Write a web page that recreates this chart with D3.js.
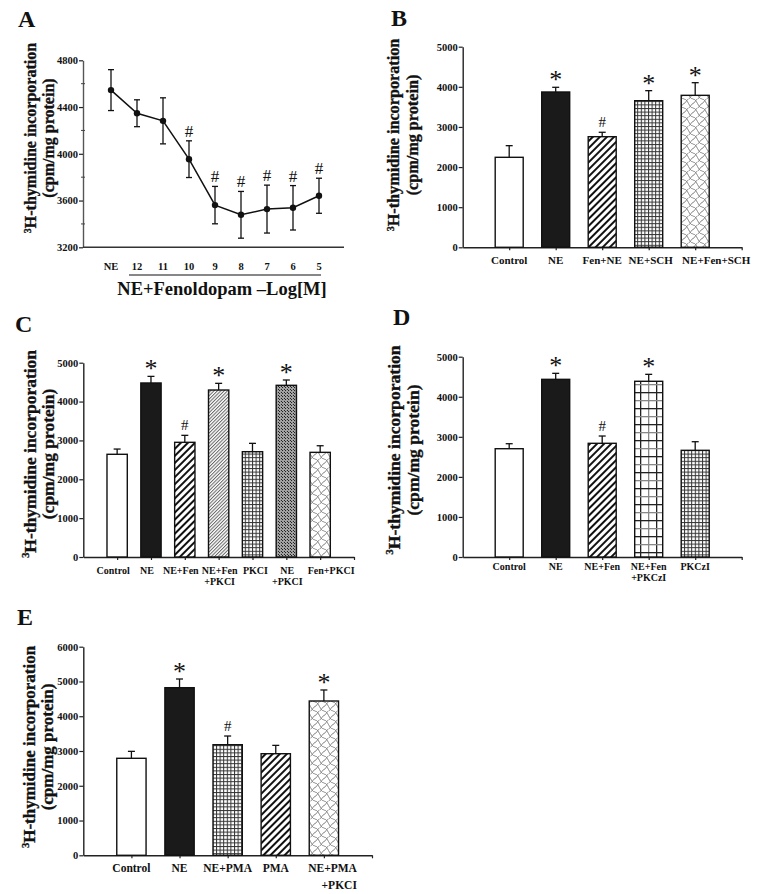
<!DOCTYPE html>
<html><head><meta charset="utf-8">
<script src="https://cdn.jsdelivr.net/npm/d3@7"></script>
<style>
body{margin:0;background:#fff}
svg{display:block}
text{font-family:"Liberation Serif","Times New Roman",serif;fill:#111}
</style>
</head><body>
<svg id="c" width="759" height="894"></svg>
<script>
// ---------------- DATA ----------------
// Panel A
const aCategories = ["NE","12","11","10","9","8","7","6","5"];
const aValues = [4545,4347,4282,3954,3561,3478,3527,3538,3641];
const aErrors = [175,115,197,157,160,200,205,190,150];
const aMarks = ["","","","#","#","#","#","#","#"];
const aTicks = [3200,3600,4000,4400,4800];
const aMinorTicks = [3400,3800,4200,4600];
const aTitle = "NE+Fenoldopam \u2013Log[M]";
// Panel B
const bCategories = ["Control","NE","Fen+NE","NE+SCH","NE+Fen+SCH"];
const bValues = [2243,3871,2757,3654,3788];
const bErrors = [290,117,110,250,315];
const bMarks = ["","*","#","*","*"];
const bTicks = [0,1000,2000,3000,4000,5000];
// Panel C
const cCategories = ["Control","NE","NE+Fen","NE+Fen\n+PKCI","PKCI","NE\n+PKCI","Fen+PKCI"];
const cValues = [2643,4478,2951,4297,2710,4418,2693];
const cErrors = [135,170,180,172,215,137,170];
const cMarks = ["","*","#","*","","*",""];
const cTicks = [0,1000,2000,3000,4000,5000];
// Panel D
const dCategories = ["Control","NE","NE+Fen","NE+Fen\n+PKCzI","PKCzI"];
const dValues = [2703,4435,2838,4386,2663];
const dErrors = [125,150,182,174,215];
const dMarks = ["","*","#","*",""];
const dTicks = [0,1000,2000,3000,4000,5000];
// Panel E
const eCategories = ["Control","NE","NE+PMA","PMA","NE+PMA\n+PKCI"];
const eValues = [2790,4821,3181,2922,4438];
const eErrors = [200,250,250,240,317];
const eMarks = ["","*","#","","*"];
const eTicks = [0,1000,2000,3000,4000,5000,6000];

const yLabel1 = "H-thymidine incorporation";
const yLabel2 = "(cpm/mg protein)";

// ---------------- SETUP ----------------
const svg = d3.select("#c");
const defs = svg.append("defs");
function pat(id, w, h, rot){
  const p = defs.append("pattern").attr("id",id).attr("patternUnits","userSpaceOnUse")
    .attr("width",w).attr("height",h);
  if(rot) p.attr("patternTransform",`rotate(${rot})`);
  p.append("rect").attr("width",w).attr("height",h).attr("fill","#fff");
  return p;
}
pat("hatch",5,5,45).append("rect").attr("width",2).attr("height",5).attr("fill","#111");
pat("fineDiag",2.4,2.4,45).append("rect").attr("width",1).attr("height",2.4).attr("fill","#666");
{ const p = pat("fineGrid",3.6,3.6);
  p.append("rect").attr("width",3.6).attr("height",1).attr("fill","#333");
  p.append("rect").attr("width",1).attr("height",3.6).attr("fill","#333"); }
{ const p = pat("bigGrid",16,16);
  p.append("rect").attr("x",0).attr("width",1.3).attr("height",16).attr("fill","#222");
  p.append("rect").attr("x",8).attr("width",1.3).attr("height",16).attr("fill","#888");
  p.append("rect").attr("y",0).attr("width",16).attr("height",1.3).attr("fill","#888");
  p.append("rect").attr("y",8).attr("width",16).attr("height",1.3).attr("fill","#222"); }
{ const p = pat("checker",3,3);
  p.append("rect").attr("width",1.5).attr("height",1.5).attr("fill","#222");
  p.append("rect").attr("x",1.5).attr("y",1.5).attr("width",1.5).attr("height",1.5).attr("fill","#222");
  p.append("rect").attr("x",1.5).attr("width",1.5).attr("height",1.5).attr("fill","#aaa");
  p.append("rect").attr("y",1.5).attr("width",1.5).attr("height",1.5).attr("fill","#aaa"); }
{ const p = pat("weave",9,9);
  p.append("path").attr("d","M0,0 C4,0 5,9 9,9 M-4.5,4.5 C-0.5,4.5 0.5,13.5 4.5,13.5 M4.5,-4.5 C8.5,-4.5 9.5,4.5 13.5,4.5")
    .attr("fill","none").attr("stroke","#777").attr("stroke-width",0.9);
  p.append("path").attr("d","M0,4.5 C1.5,4.5 3,0 4.5,0 M4.5,9 C6,9 7.5,4.5 9,4.5")
    .attr("fill","none").attr("stroke","#777").attr("stroke-width",0.9); }

const fillMap = {white:"#fff", black:"#1a1a1a", hatch:"url(#hatch)", fineDiag:"url(#fineDiag)",
  fineGrid:"url(#fineGrid)", bigGrid:"url(#bigGrid)", checker:"url(#checker)", weave:"url(#weave)"};

function panelLetter(t,x,y){
  svg.append("text").attr("x",x).attr("y",y).attr("font-size",24).attr("font-weight","bold").text(t);
}
function yTitle(cx1,cx2,cy,size){
  const off = size*0.33;
  const t1 = svg.append("text").attr("transform",`translate(${cx1+off},${cy}) rotate(-90)`)
    .attr("text-anchor","middle").attr("font-size",size).attr("font-weight","bold")
    .attr("stroke","#111").attr("stroke-width",0.35);
  t1.append("tspan").attr("font-size",size*0.62).attr("dy",-size*0.36).text("3");
  t1.append("tspan").attr("dy",size*0.36).text(yLabel1);
  svg.append("text").attr("transform",`translate(${cx2+off},${cy}) rotate(-90)`)
    .attr("text-anchor","middle").attr("font-size",size).attr("font-weight","bold")
    .attr("stroke","#111").attr("stroke-width",0.35).text(yLabel2);
}
function styleAxis(g){
  g.select(".domain").attr("stroke","#222").attr("stroke-width",1.4);
  g.selectAll(".tick line").attr("stroke","#222").attr("stroke-width",1.2);
  g.selectAll(".tick text").attr("font-family","Liberation Serif, serif").attr("font-weight","bold")
    .attr("font-size",10.5).attr("fill","#111");
}
const fmt = d => String(d);

// ---------------- PANEL A ----------------
(function(){
  const x0 = 83, xEnd = 344;
  const x = d3.scalePoint().domain(aCategories).range([111,319]);
  const y = d3.scaleLinear().domain([3200,4800]).range([247.3,60.3]);
  const gy = svg.append("g").attr("transform",`translate(${x0},0)`)
    .call(d3.axisLeft(y).tickValues(aTicks).tickFormat(fmt).tickSize(4).tickPadding(1).tickSizeOuter(0));
  styleAxis(gy);
  gy.select(".domain").attr("stroke","#555");
  svg.append("g").selectAll("line").data(aMinorTicks).join("line")
    .attr("x1",x0-2).attr("x2",x0+2).attr("y1",d=>y(d)).attr("y2",d=>y(d)).attr("stroke","#444");
  svg.append("line").attr("x1",x0).attr("x2",xEnd).attr("y1",y(3200)).attr("y2",y(3200))
    .attr("stroke","#333").attr("stroke-width",1.4);
  svg.append("g").selectAll("text").data(aCategories).join("text")
    .attr("x",d=>x(d)).attr("y",270).attr("text-anchor","middle")
    .attr("font-size",10.5).attr("font-weight","bold").text(d=>d);
  svg.append("line").attr("x1",x(aCategories[1])-8).attr("x2",x(aCategories[8])+2)
    .attr("y1",275).attr("y2",275).attr("stroke","#111").attr("stroke-width",1.2);
  svg.append("text").attr("x",222).attr("y",295).attr("text-anchor","middle")
    .attr("font-size",18.5).attr("font-weight","bold").text(aTitle);
  const pts = aCategories.map((c,i)=>({c,v:aValues[i],e:aErrors[i],m:aMarks[i]}));
  const eg = svg.append("g").attr("stroke","#111").attr("stroke-width",1.3);
  pts.forEach(p=>{
    eg.append("line").attr("x1",x(p.c)).attr("x2",x(p.c)).attr("y1",y(p.v-p.e)).attr("y2",y(p.v+p.e));
    eg.append("line").attr("x1",x(p.c)-3).attr("x2",x(p.c)+3).attr("y1",y(p.v-p.e)).attr("y2",y(p.v-p.e));
    eg.append("line").attr("x1",x(p.c)-3).attr("x2",x(p.c)+3).attr("y1",y(p.v+p.e)).attr("y2",y(p.v+p.e));
  });
  svg.append("path").datum(pts).attr("fill","none").attr("stroke","#111").attr("stroke-width",1.5)
    .attr("d",d3.line().x(d=>x(d.c)).y(d=>y(d.v)));
  svg.append("g").selectAll("circle").data(pts).join("circle")
    .attr("cx",d=>x(d.c)).attr("cy",d=>y(d.v)).attr("r",3.2).attr("fill","#111");
  svg.append("g").selectAll("text").data(pts.filter(d=>d.m)).join("text")
    .attr("x",d=>x(d.c)).attr("y",d=>y(d.v+d.e)-4).attr("text-anchor","middle")
    .attr("font-size",17).attr("fill","#222").text(d=>d.m);
  panelLetter("A",18,27);
  yTitle(31,49,138,16);
})();

// ---------------- BAR PANELS ----------------
function barPanel(o){
  const n = o.cats.length;
  const x = d3.scaleLinear().domain([0,n+1]).range([o.x0,o.x1]);
  const y = d3.scaleLinear().domain([0,o.yMax]).range([o.yBase,o.yTop]);
  const gy = svg.append("g").attr("transform",`translate(${o.x0},0)`)
    .call(d3.axisLeft(y).tickValues(o.ticks).tickFormat(fmt).tickSize(4).tickPadding(1).tickSizeOuter(0));
  styleAxis(gy);
  const gx = svg.append("g").attr("transform",`translate(0,${o.yBase})`)
    .call(d3.axisBottom(x).tickValues(d3.range(1,n+2)).tickSize(3).tickSizeOuter(0).tickFormat(""));
  styleAxis(gx);
  const rows = o.cats.map((c,i)=>({c,i,v:o.vals[i],e:o.errs[i],m:o.marks[i],f:o.fills[i]}));
  svg.append("g").selectAll("rect").data(rows).join("rect")
    .attr("x",d=>x(d.i+1)-o.barW/2).attr("width",o.barW)
    .attr("y",d=>y(d.v)).attr("height",d=>o.yBase-y(d.v))
    .attr("fill",d=>fillMap[d.f]).attr("stroke","#111").attr("stroke-width",1.4);
  const eg = svg.append("g").attr("stroke","#111").attr("stroke-width",1.3);
  rows.forEach(d=>{
    eg.append("line").attr("x1",x(d.i+1)).attr("x2",x(d.i+1)).attr("y1",y(d.v)).attr("y2",y(d.v+d.e));
    eg.append("line").attr("x1",x(d.i+1)-3.5).attr("x2",x(d.i+1)+3.5).attr("y1",y(d.v+d.e)).attr("y2",y(d.v+d.e));
  });
  svg.append("g").selectAll("text").data(rows.filter(d=>d.m)).join("text")
    .attr("x",d=>x(d.i+1)).attr("text-anchor","middle")
    .attr("y",d=> d.m==="*" ? y(d.v+d.e)+1 : y(d.v+d.e)-5)
    .attr("font-size",d=> d.m==="*" ? 26 : 15)
    .attr("fill",d=> d.m==="*" ? "#111" : "#333")
    .text(d=>d.m);
  const lg = svg.append("g");
  rows.forEach(d=>{
    const dx = o.labelDx ? o.labelDx[d.i] : 0;
    const anchor = o.labelAnchor ? o.labelAnchor[d.i] : "middle";
    const t = lg.append("text").attr("y",o.labelY).attr("text-anchor",anchor)
      .attr("font-size",o.labelSize).attr("font-weight","bold");
    d.c.split("\n").forEach((s,k)=>{
      t.append("tspan").attr("x",x(d.i+1)+dx).attr("dy",k? o.lineGap : 0).text(s);
    });
  });
  panelLetter(o.letter,o.lx,o.ly);
  yTitle(o.t1,o.t2,o.tc,o.ts);
}

barPanel({letter:"B",lx:391,ly:26,cats:bCategories,vals:bValues,errs:bErrors,marks:bMarks,ticks:bTicks,
  fills:["white","black","hatch","fineGrid","weave"],
  labelDx:[0,0,0,2,21],
  x0:462.7,x1:741.7,yBase:247.3,yTop:46.7,yMax:5000,barW:28,labelY:264,labelSize:11,lineGap:11,
  t1:394,t2:413,tc:135,ts:16.2});

barPanel({letter:"C",lx:15,ly:332,cats:cCategories,vals:cValues,errs:cErrors,marks:cMarks,ticks:cTicks,
  fills:["white","black","hatch","fineDiag","fineGrid","checker","weave"],
  labelDx:[-4,-4,-4,1,3,1,11],
  x0:83.3,x1:354,yBase:557,yTop:362.7,yMax:5000,barW:20.3,labelY:574,labelSize:10,lineGap:11,
  t1:30,t2:48,tc:454,ts:17.5});

barPanel({letter:"D",lx:393,ly:325,cats:dCategories,vals:dValues,errs:dErrors,marks:dMarks,ticks:dTicks,
  fills:["white","black","hatch","bigGrid","fineGrid"],
  x0:462.7,x1:741.7,yBase:557,yTop:356.7,yMax:5000,barW:28,labelY:570,labelSize:10,lineGap:10.5,
  t1:394,t2:413,tc:450,ts:17.6});

barPanel({letter:"E",lx:17,ly:625,cats:eCategories,vals:eValues,errs:eErrors,marks:eMarks,ticks:eTicks,
  fills:["white","black","fineGrid","hatch","weave"],
  labelDx:[0,0,0,0,33], labelAnchor:["middle","middle","middle","middle","end"],
  x0:83.3,x1:372,yBase:855.3,yTop:646.7,yMax:6000,barW:29.3,labelY:872,labelSize:11.5,lineGap:16.5,
  t1:29,t2:47.5,tc:747,ts:17});
</script>
</body></html>
